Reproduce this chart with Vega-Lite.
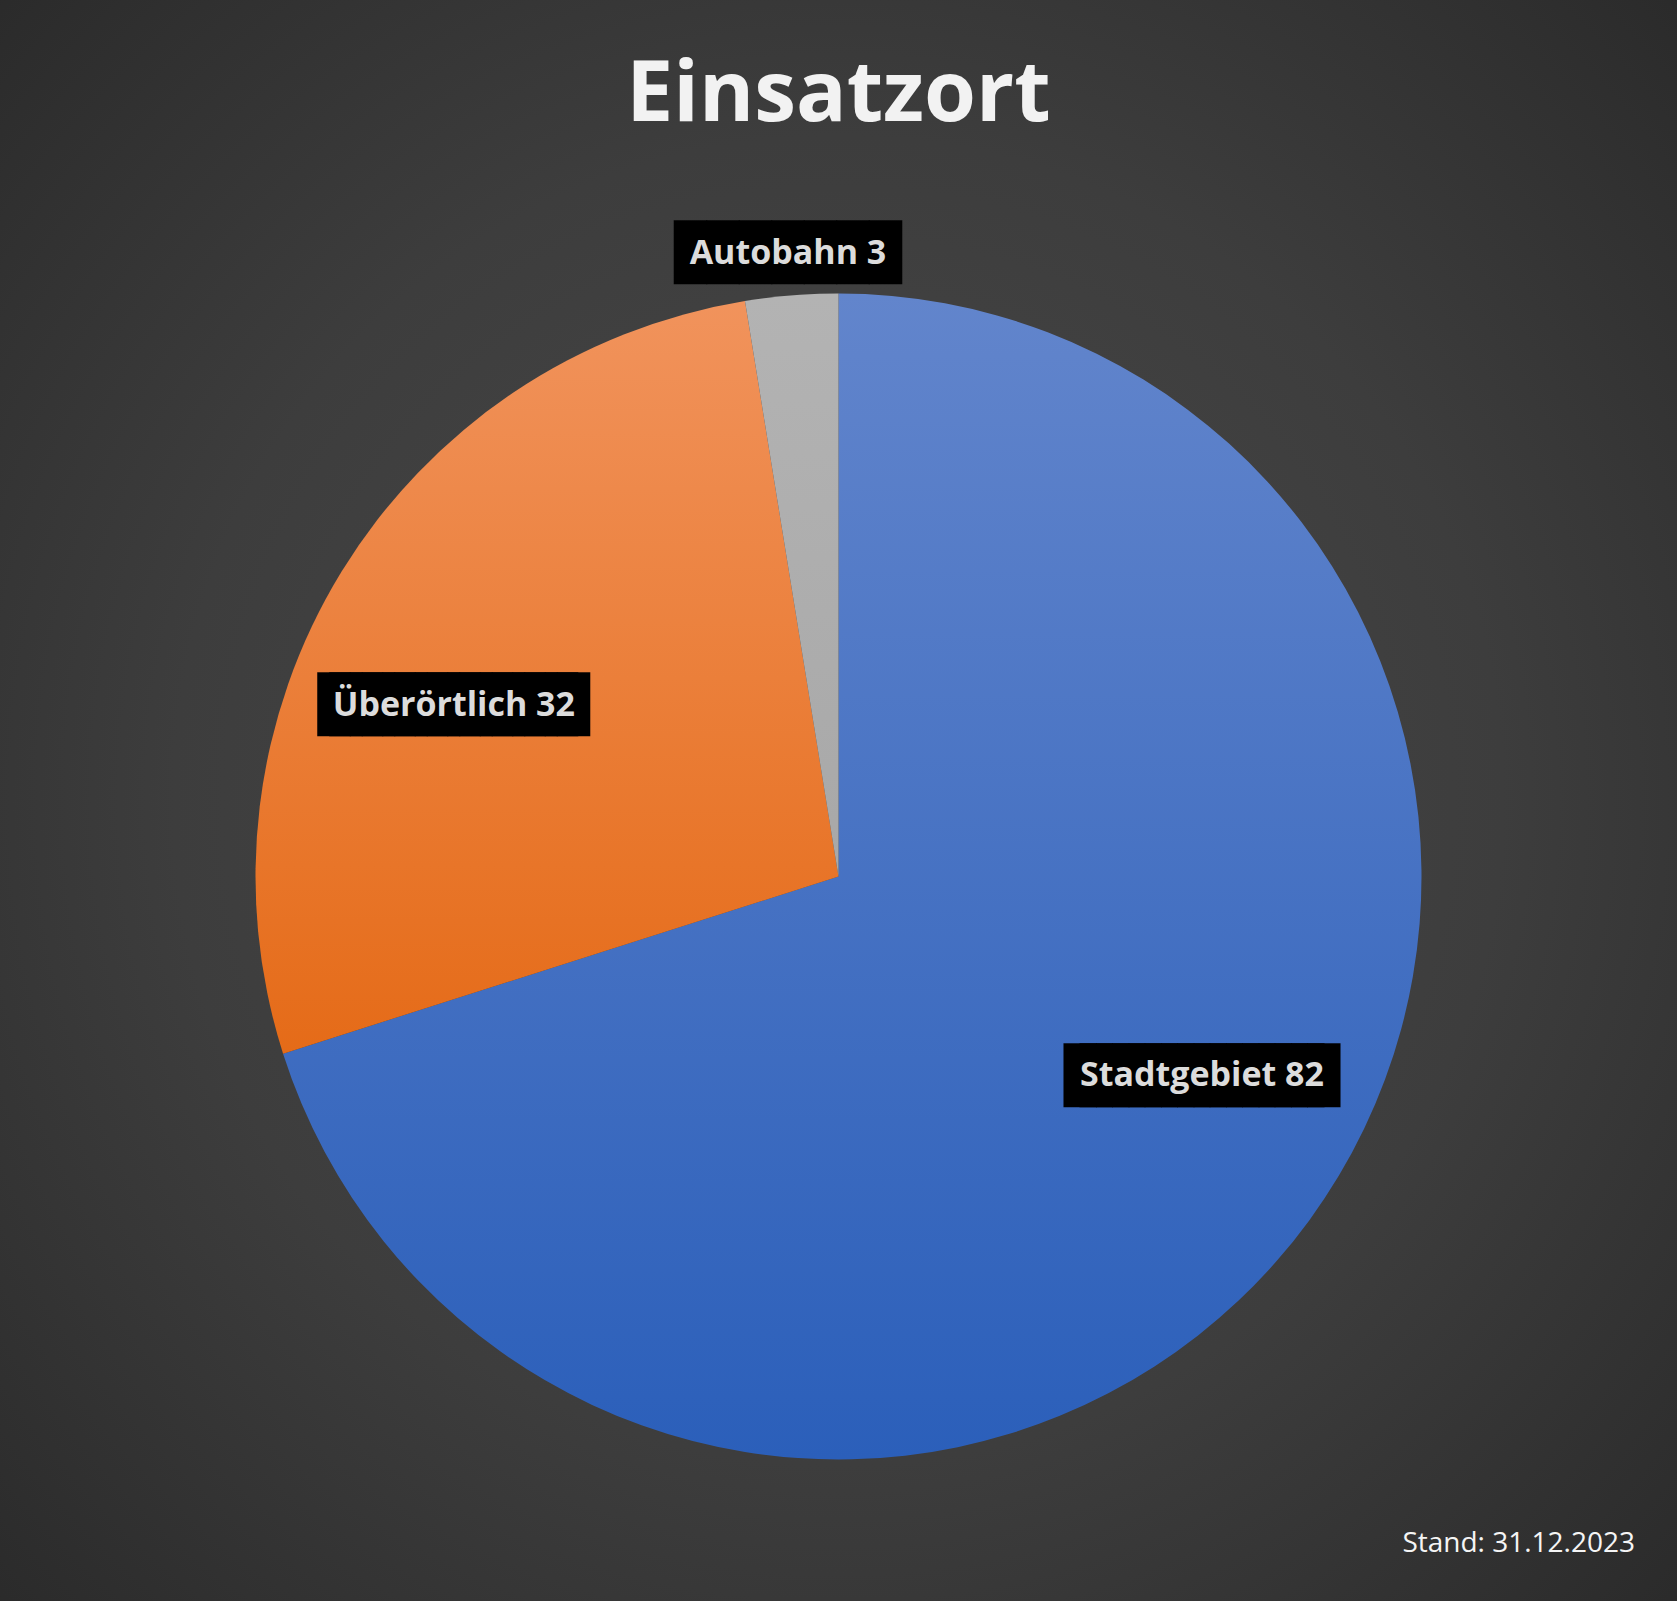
{
  "$schema": "https://vega.github.io/schema/vega-lite/v6.json",
  "width": 1677,
  "height": 1601,
  "padding": 0,
  "autosize": {"type": "none"},
  "background": "#2b2b2b",
  "config": {
    "view": {
      "stroke": null,
      "fill": {
        "gradient": "radial",
        "x1": 0.5, "y1": 0.5, "r1": 0,
        "x2": 0.5, "y2": 0.5, "r2": 0.72,
        "stops": [
          {"offset": 0, "color": "#4a4a4a"},
          {"offset": 0.55, "color": "#3d3d3d"},
          {"offset": 1, "color": "#292929"}
        ]
      }
    }
  },
  "title": {
    "text": "Einsatzort",
    "font": "Open Sans",
    "fontSize": 84,
    "fontWeight": "bold",
    "color": "#f2f2f2",
    "anchor": "middle",
    "frame": "group",
    "baseline": "alphabetic",
    "offset": -205
  },
  "layer": [
    {
      "data": {
        "values": [
          {"cat": "Stadtgebiet", "value": 82},
          {"cat": "Überörtlich", "value": 32},
          {"cat": "Autobahn", "value": 3}
        ]
      },
      "transform": [{"calculate": "datum.cat + ' ' + datum.value", "as": "label"}],
      "encoding": {
        "theta": {"field": "value", "type": "quantitative", "stack": true},
        "order": {"field": "value", "type": "quantitative", "sort": "descending"}
      },
      "layer": [
        {
          "mark": {"type": "arc", "outerRadius": 583, "yOffset": 76, "stroke": null},
          "encoding": {
            "color": {
              "condition": [
                {
                  "test": "datum.cat === 'Stadtgebiet'",
                  "value": {
                    "gradient": "linear", "x1": 0, "y1": 0, "x2": 0, "y2": 1,
                    "stops": [
                      {"offset": 0, "color": "#6285cc"},
                      {"offset": 1, "color": "#2b5fba"}
                    ]
                  }
                },
                {
                  "test": "datum.cat === 'Überörtlich'",
                  "value": {
                    "gradient": "linear", "x1": 0, "y1": 0, "x2": 0, "y2": 1,
                    "stops": [
                      {"offset": 0, "color": "#f1935c"},
                      {"offset": 1, "color": "#e56b18"}
                    ]
                  }
                }
              ],
              "value": {
                "gradient": "linear", "x1": 0, "y1": 0, "x2": 0, "y2": 1,
                "stops": [
                  {"offset": 0, "color": "#b3b3b3"},
                  {"offset": 1, "color": "#a8a8a8"}
                ]
              }
            }
          }
        },
        {
          "mark": {"type": "text", "font": "DejaVu Sans Mono", "fontSize": 54, "radius": 628, "yOffset": 76, "dy": 4, "color": "#000000", "align": "center", "baseline": "middle"},
          "encoding": {
            "text": {"condition": {"test": "datum.cat === 'Autobahn'", "value": "███████"}, "value": ""}
          }
        },
        {
          "mark": {"type": "text", "font": "DejaVu Sans Mono", "fontSize": 54, "radius": 422, "yOffset": 76, "dx": -31, "dy": 51, "color": "#000000", "align": "center", "baseline": "middle"},
          "encoding": {
            "text": {"condition": {"test": "datum.cat === 'Überörtlich'", "value": "████████"}, "value": ""}
          }
        },
        {
          "mark": {"type": "text", "font": "DejaVu Sans Mono", "fontSize": 54, "radius": 422, "yOffset": 76, "dx": -19, "dy": 51, "color": "#000000", "align": "center", "baseline": "middle"},
          "encoding": {
            "text": {"condition": {"test": "datum.cat === 'Überörtlich'", "value": "████████"}, "value": ""}
          }
        },
        {
          "mark": {"type": "text", "font": "DejaVu Sans Mono", "fontSize": 54, "radius": 413, "yOffset": 76, "dx": 22, "dy": -42, "color": "#000000", "align": "center", "baseline": "middle"},
          "encoding": {
            "text": {"condition": {"test": "datum.cat === 'Stadtgebiet'", "value": "████████"}, "value": ""}
          }
        },
        {
          "mark": {"type": "text", "font": "DejaVu Sans Mono", "fontSize": 54, "radius": 413, "yOffset": 76, "dx": 38, "dy": -42, "color": "#000000", "align": "center", "baseline": "middle"},
          "encoding": {
            "text": {"condition": {"test": "datum.cat === 'Stadtgebiet'", "value": "████████"}, "value": ""}
          }
        },
        {
          "mark": {"type": "text", "font": "Open Sans", "fontWeight": "bold", "fontSize": 34, "radius": 628, "yOffset": 76, "dy": 3, "color": "#dcdcdc", "align": "center", "baseline": "middle"},
          "encoding": {
            "text": {"condition": {"test": "datum.cat === 'Autobahn'", "field": "label"}, "value": ""}
          }
        },
        {
          "mark": {"type": "text", "font": "Open Sans", "fontWeight": "bold", "fontSize": 34, "radius": 422, "yOffset": 76, "dx": -25, "dy": 50, "color": "#dcdcdc", "align": "center", "baseline": "middle"},
          "encoding": {
            "text": {"condition": {"test": "datum.cat === 'Überörtlich'", "field": "label"}, "value": ""}
          }
        },
        {
          "mark": {"type": "text", "font": "Open Sans", "fontWeight": "bold", "fontSize": 34, "radius": 413, "yOffset": 76, "dx": 30, "dy": -44, "color": "#dcdcdc", "align": "center", "baseline": "middle"},
          "encoding": {
            "text": {"condition": {"test": "datum.cat === 'Stadtgebiet'", "field": "label"}, "value": ""}
          }
        }
      ]
    },
    {
      "data": {"values": [{"note": "Stand: 31.12.2023"}]},
      "mark": {"type": "text", "font": "Open Sans", "fontSize": 28, "color": "#f5f5f5", "align": "right", "baseline": "alphabetic", "dx": -42, "dy": -49},
      "encoding": {
        "text": {"field": "note", "type": "nominal"},
        "x": {"value": "width"},
        "y": {"value": "height"}
      }
    }
  ]
}
